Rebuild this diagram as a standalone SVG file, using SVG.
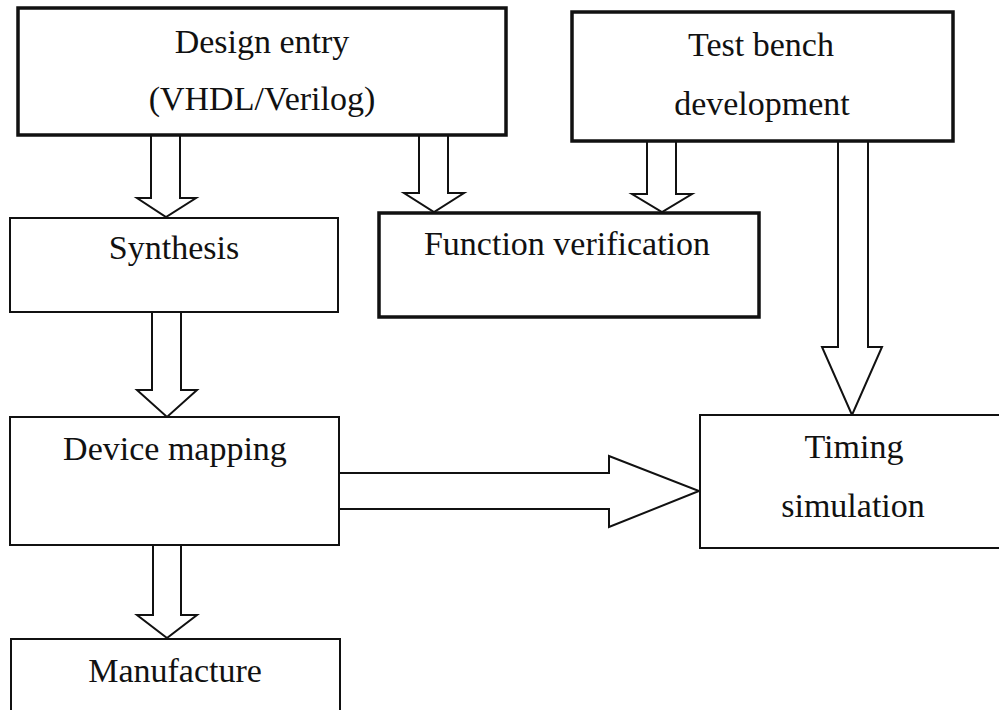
<svg xmlns="http://www.w3.org/2000/svg" width="999" height="710" viewBox="0 0 999 710">
  <style>
    .box { fill: #fff; stroke: #111; }
    .thick { stroke-width: 3.5; }
    .thin { stroke-width: 2; }
    .arrow { fill: #fff; stroke: #111; stroke-width: 2; stroke-linejoin: miter; }
    .label { font-family: "Liberation Serif", "Times New Roman", serif; font-size: 34px; fill: #111; text-anchor: middle; }
  </style>
  <rect width="999" height="710" fill="#fff"/>

  <!-- block arrows between stages -->
  <g id="connectors">
    <path class="arrow" d="M151,135 V198 H137 L166,217 L196,198 H180 V135"/>
    <path class="arrow" d="M419,135 V193 H404 L434,212 L464,193 H448 V135"/>
    <path class="arrow" d="M647,141 V194 H632 L662,212 L692,194 H676 V141"/>
    <path class="arrow" d="M838,141 V347 H822 L852,415 L882,347 H868 V141"/>
    <path class="arrow" d="M152,312 V390 H137 L167,417 L197,390 H181 V312"/>
    <path class="arrow" d="M153,545 V615 H137 L167,638 L197,615 H181 V545"/>
    <path class="arrow" d="M339,473 H609 V456 L699,491 L609,527 V509 H339"/>
  </g>

  <g id="design-entry">
    <rect class="box thick" x="18" y="8" width="488" height="127"/>
    <text class="label" x="262" y="53">Design entry</text>
    <text class="label" x="262" y="110">(VHDL/Verilog)</text>
  </g>

  <g id="test-bench">
    <rect class="box thick" x="572" y="12" width="381" height="129"/>
    <text class="label" x="761" y="56">Test bench</text>
    <text class="label" x="762" y="115">development</text>
  </g>

  <g id="synthesis">
    <rect class="box thin" x="10" y="218" width="328" height="94"/>
    <text class="label" x="174" y="259">Synthesis</text>
  </g>

  <g id="function-verification">
    <rect class="box thick" x="379" y="213" width="380" height="104"/>
    <text class="label" x="567" y="255">Function verification</text>
  </g>

  <g id="device-mapping">
    <rect class="box thin" x="10" y="417" width="329" height="128"/>
    <text class="label" x="175" y="460">Device mapping</text>
  </g>

  <g id="timing-simulation">
    <rect class="box thin" x="700" y="415" width="310" height="133"/>
    <text class="label" x="854" y="458">Timing</text>
    <text class="label" x="853" y="517">simulation</text>
  </g>

  <g id="manufacture">
    <rect class="box thin" x="11" y="639" width="329" height="80"/>
    <text class="label" x="175" y="682">Manufacture</text>
  </g>
</svg>
